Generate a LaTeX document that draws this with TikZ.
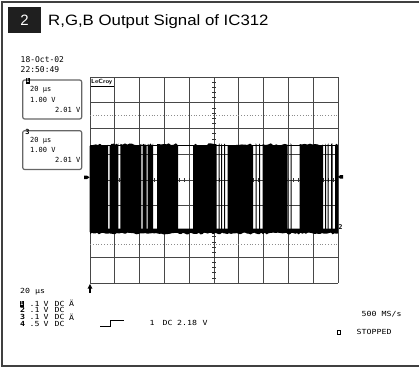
\documentclass[tikz,border=0pt]{standalone}
\usepackage{fontspec}
\setmainfont{Liberation Sans}
\newfontfamily\scpfont{DejaVu Sans Mono}
\newcommand{\widetxt}[1]{\scalebox{1.18}[1]{#1}}
\begin{document}
\begin{tikzpicture}[x=1pt,y=-1pt,
  frameline/.style={draw=black!75, line width=1.3pt},
  gridline/.style={draw=black!72, line width=0.9pt},
  dotline/.style={draw=black!45, line width=0.6pt, dash pattern=on 0.8pt off 2pt},
  tickline/.style={draw=black!80, line width=0.6pt},
  scpbig/.style={font=\scpfont\fontsize{8}{8}\selectfont, inner sep=0pt, anchor=west},
  scpmid/.style={font=\scpfont\fontsize{7}{7}\selectfont, inner sep=0pt, anchor=west},
  scpsmall/.style={font=\scpfont\fontsize{7}{7}\selectfont, inner sep=0pt, anchor=west},
  scpbold/.style={font=\scpfont\bfseries\fontsize{7}{7}\selectfont, inner sep=0pt, anchor=west},
  infobox/.style={draw=black!60, line width=1.2pt, rounded corners=2pt},
  tagbox/.style={fill=black, text=white, font=\scpfont\bfseries\fontsize{5}{5}\selectfont, inner sep=0.4pt, minimum width=4.5pt, minimum height=6.5pt}
]
\useasboundingbox (0,0) rectangle (419,367);
% outer frame
\draw[frameline] (419,2) -- (2,2) -- (2,366) -- (419,366);
% title
\node[fill=black!88, minimum width=33pt, minimum height=26pt, inner sep=0pt, text=white, font=\fontsize{15}{15}\selectfont] (num) at (24.5,20) {2};
\node[anchor=base west, inner sep=0pt, font=\fontsize{15}{15}\selectfont] (title) at (48,25.5) {\scalebox{1.12}[1]{R,G,B Output Signal of IC312}};
% date
\node[scpbig] (date) at (20.5,59.5) {18-Oct-02};
\node[scpbig] (time) at (20.5,69.5) {22:50:49};
% info boxes
\draw[infobox] (22.7,80) rectangle (81.7,119);
\node[tagbox] (tag1) at (27.8,81) {1};
\node[scpmid] (b1a) at (30,90) {20 μs};
\node[scpmid] (b1b) at (30,99.5) {1.00 V};
\node[scpmid, anchor=east] (b1c) at (80.5,109.5) {2.01 V};
\draw[infobox] (22.7,130.7) rectangle (81.7,169.5);
\node[font=\scpfont\bfseries\fontsize{7}{7}\selectfont, inner sep=0pt] (tag3) at (27.5,131.5) {3};
\node[scpmid] (b2a) at (30,140.5) {20 μs};
\node[scpmid] (b2b) at (30,150) {1.00 V};
\node[scpmid, anchor=east] (b2c) at (80.5,160) {2.01 V};
% grid
\foreach \i in {0,...,10} \draw[gridline] ({90+24.8*\i},77) -- ({90+24.8*\i},283);
\foreach \j in {0,...,8} \draw[gridline] (90,{77+25.75*\j}) -- (338,{77+25.75*\j});
\draw[dotline] (90,115.6) -- (338,115.6);
\draw[dotline] (90,244.4) -- (338,244.4);
\foreach \k in {1,...,39} \draw[tickline] (212,{77+5.15*\k}) -- (216,{77+5.15*\k});
\foreach \k in {1,...,49} \draw[tickline] ({90+4.96*\k},178) -- ({90+4.96*\k},182);
% LeCroy label
\node[font=\sffamily\bfseries\fontsize{6}{6}\selectfont, anchor=north west, inner sep=0pt] (lecroy) at (91,79.3) {\scalebox{1.1}[1]{LeCroy}};
\draw[line width=0.7pt] (90.5,86.5) -- (113.5,86.5);
% signal
\pgfmathsetseed{11}
\foreach \a/\b in {89.5/108.2, 109.6/118.3, 120.3/141.3, 142.5/146.5, 147.5/153, 157/178.2,
  193/216.5, 218.5/219.5, 221/222, 224/225.2, 227.5/253, 255.5/256.5, 259/260.2, 262.5/287.5,
  290.5/291.5, 299.5/323, 325/326, 327.5/328.6, 331/332.5, 335/337.8}
{
  \fill (\a,232) -- plot[domain=\a:\b, samples=10] (\x,{143.3+2.8*rnd}) -- (\b,232) -- cycle;
}
\draw[line width=1.1pt] (90,145.6) -- (338,145.6);
\fill (90,228.5) -- (338,228.5) -- plot[domain=338:90, samples=140] (\x,{232.6+1.8*rnd}) -- cycle;
% markers
\fill (84,175.6) -- (87,175.6) -- (89.6,177.3) -- (87,179) -- (84,179) -- cycle;
\fill (343,175.2) -- (340.2,175.2) -- (337.8,176.9) -- (340.2,178.6) -- (343,178.6) -- cycle;
\node[font=\scpfont\bfseries\fontsize{6.5}{6.5}\selectfont, inner sep=0pt] (mk2) at (340.5,227.5) {2};
\draw[line width=1.4pt] (90,293) -- (90,287);
\fill (87.6,288.5) -- (90,284) -- (92.4,288.5) -- cycle;
% bottom info
\node[scpsmall] (tdiv) at (20,291.5) {\widetxt{20 μs}};
\node[tagbox, minimum height=6pt, minimum width=4pt] (c1) at (22,303.5) {1};
\node[scpbold] (c2) at (20,310.2) {\widetxt{2}};
\node[scpbold] (c3) at (20,316.9) {\widetxt{3}};
\node[scpbold] (c4) at (20,323.6) {\widetxt{4}};
\node[scpsmall] (v1) at (29.5,303.5) {\widetxt{.1}};
\node[scpsmall] (v2) at (29.5,310.2) {\widetxt{.1}};
\node[scpsmall] (v3) at (29.5,316.9) {\widetxt{.1}};
\node[scpsmall] (v4) at (29.5,323.6) {\widetxt{.5}};
\foreach \r/\y in {1/303.5, 2/310.2, 3/316.9, 4/323.6} {
  \node[scpsmall] (u\r) at (43.5,\y) {\widetxt{V}};
  \node[scpsmall] (d\r) at (54.5,\y) {\widetxt{DC}};
}
\node[scpsmall] (bw1) at (69,303.5) {\widetxt{Ä}};
\node[scpsmall] (bw3) at (69,316.9) {\widetxt{Ä}};
\draw[line width=0.8pt] (100,326.5) -- (110,326.5) -- (110,320.5) -- (124,320.5);
\node[scpsmall] (trig) at (149.5,322.8) {\widetxt{1}};
\node[scpsmall] (trigdc) at (162.5,322.8) {\widetxt{DC}};
\node[scpsmall] (triglev) at (177,322.8) {\widetxt{2.18}};
\node[scpsmall] (trigv) at (202.5,322.8) {\widetxt{V}};
\node[scpsmall] (rate) at (361.5,314) {\widetxt{500}};
\node[scpsmall] (rateu) at (381.5,314) {\widetxt{MS/s}};
\draw[line width=0.8pt] (337,330.2) rectangle (340.6,334.2);
\node[scpsmall] (stop) at (356.5,332.2) {\widetxt{STOPPED}};
\end{tikzpicture}
\end{document}
